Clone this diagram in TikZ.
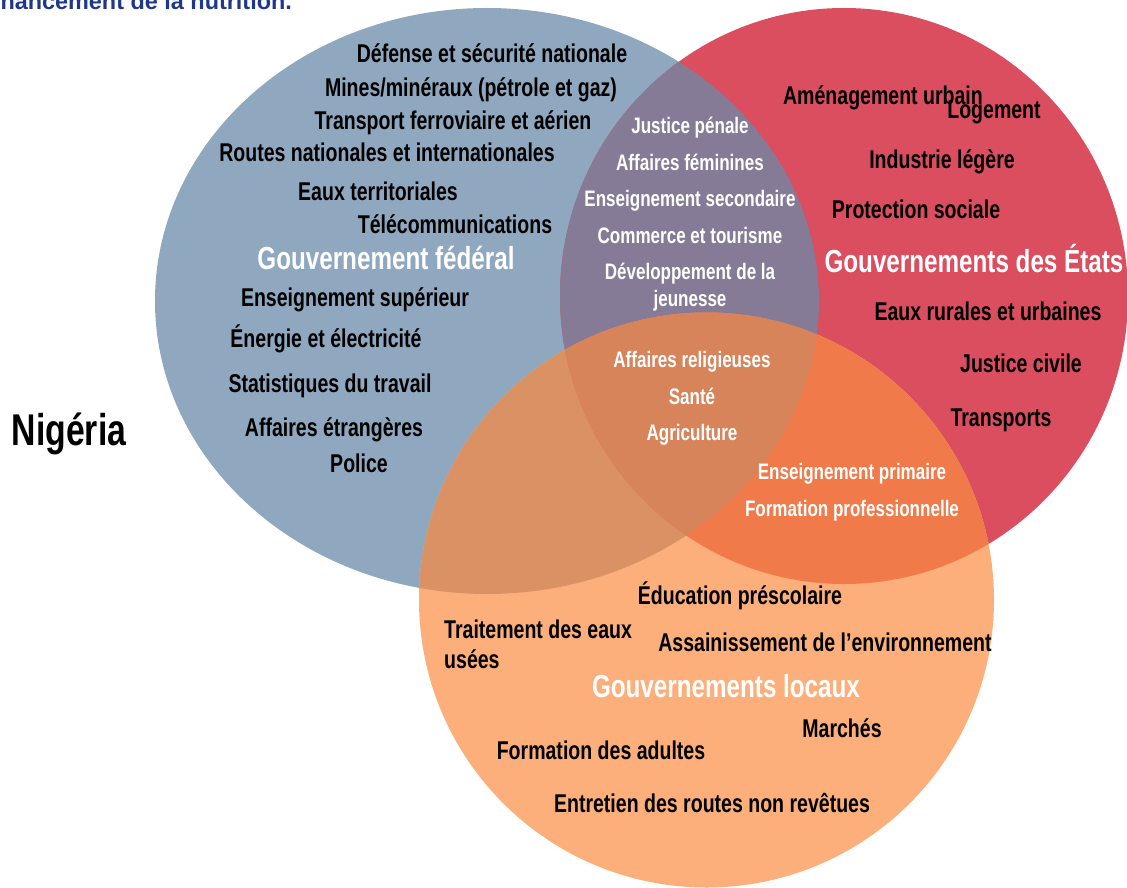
\documentclass[tikz,border=0pt]{standalone}
\usepackage{fontspec}
\setmainfont{Liberation Sans}[FakeStretch=0.76]
\newfontfamily\titlefont{Liberation Sans}

\definecolor{fedblue}{RGB}{143,168,191}
\definecolor{statered}{RGB}{218,78,95}
\definecolor{localorange}{RGB}{252,175,122}
\definecolor{fedstate}{RGB}{134,123,150}
\definecolor{fedlocal}{RGB}{218,145,100}
\definecolor{statelocal}{RGB}{240,122,74}
\definecolor{allthree}{RGB}{216,132,90}
\definecolor{titleblue}{RGB}{32,56,140}

% the three levels of government
\def\fedshape{(487,301) ellipse [x radius=332bp, y radius=293bp]}
\def\stateshape{(844,296) ellipse [x radius=284bp, y radius=288bp]}
\def\localshape{(706.5,600) ellipse [x radius=287.5bp, y radius=287.5bp]}

\begin{document}
\begin{tikzpicture}
		[x=1bp,y=-1bp,every node/.style={inner sep=0pt,anchor=base},
		item/.style={font=\bfseries\fontsize{25.8}{30}\selectfont},
		shared/.style={text=white,font=\bfseries\fontsize{22.5}{27}\selectfont},
		head/.style={text=white,font=\bfseries\fontsize{32}{36}\selectfont}]
		\useasboundingbox (0,0) rectangle (1127,888);
		
		\fill[fedblue] \fedshape;
		\fill[statered] \stateshape;
		\fill[localorange] \localshape;
		\begin{scope}
			\clip \fedshape;
			\fill[fedstate] \stateshape;
			\fill[fedlocal] \localshape;
		\end{scope}
		\begin{scope}
			\clip \stateshape;
			\fill[statelocal] \localshape;
		\end{scope}
		\begin{scope}
			\clip \fedshape;
			\clip \stateshape;
			\fill[allthree] \localshape;
		\end{scope}
		
		\node[anchor=base west,text=titleblue,font=\titlefont\bfseries\fontsize{23.5}{28}\selectfont]
			(title) at (-14,9) {financement de la nutrition.};
		\node[font=\bfseries\fontsize{44.6}{50}\selectfont] (nigeria) at (69,445) {Nigéria};
		
		% federal
		\node[head] (fed) at (386,269) {Gouvernement fédéral};
		\foreach \i/\x/\y/\txt in {1/492/62/Défense et sécurité nationale,
			2/471/96/{Mines/minéraux (pétrole et gaz)},
			3/453/129/Transport ferroviaire et aérien,
			4/387/161/Routes nationales et internationales,
			5/378/200/Eaux territoriales,
			6/455/233/Télécommunications,
			7/355/306/Enseignement supérieur,
			8/326/347/Énergie et électricité,
			9/330/392/Statistiques du travail,
			10/334/436/Affaires étrangères,
			11/359/472/Police}
		\node[item] (f\i) at (\x,\y) {\txt};
		
		% states
		\node[head] (state) at (974,272) {Gouvernements des États};
		\foreach \i/\x/\y/\txt in {1/883/104/Aménagement urbain,
			2/994/118/Logement,
			3/942/168/Industrie légère,
			4/916/218/Protection sociale,
			5/988/320/Eaux rurales et urbaines,
			6/1021/372/Justice civile,
			7/1001/426/Transports}
		\node[item] (s\i) at (\x,\y) {\txt};
		
		% local
		\node[head] (local) at (726,697) {Gouvernements locaux};
		\foreach \i/\x/\y/\txt in {1/740/604/Éducation préscolaire,
			2/825/651/Assainissement de l’environnement,
			3/842/737/Marchés,
			4/601/759/Formation des adultes,
			5/712/812/Entretien des routes non revêtues}
		\node[item] (l\i) at (\x,\y) {\txt};
		\node[item,anchor=north west,align=left] (l6) at (444,620) {Traitement des eaux\\usées};
		
		% shared between federal and states
		\foreach \i/\y/\txt in {1/133/Justice pénale,
			2/170/Affaires féminines,
			3/206/Enseignement secondaire,
			4/243/Commerce et tourisme}
		\node[shared] (fs\i) at (690,\y) {\txt};
		\node[shared,anchor=north,align=center] (fs5) at (690,263) {Développement de la\\jeunesse};
		
		% shared by all three
		\foreach \i/\y/\txt in {1/367/Affaires religieuses,2/404/Santé,3/440/Agriculture}
		\node[shared] (all\i) at (692,\y) {\txt};
		
		% shared between states and local
		\node[shared] (sl1) at (852,479) {Enseignement primaire};
		\node[shared] (sl2) at (852,516) {Formation professionnelle};
\end{tikzpicture}
\end{document}
